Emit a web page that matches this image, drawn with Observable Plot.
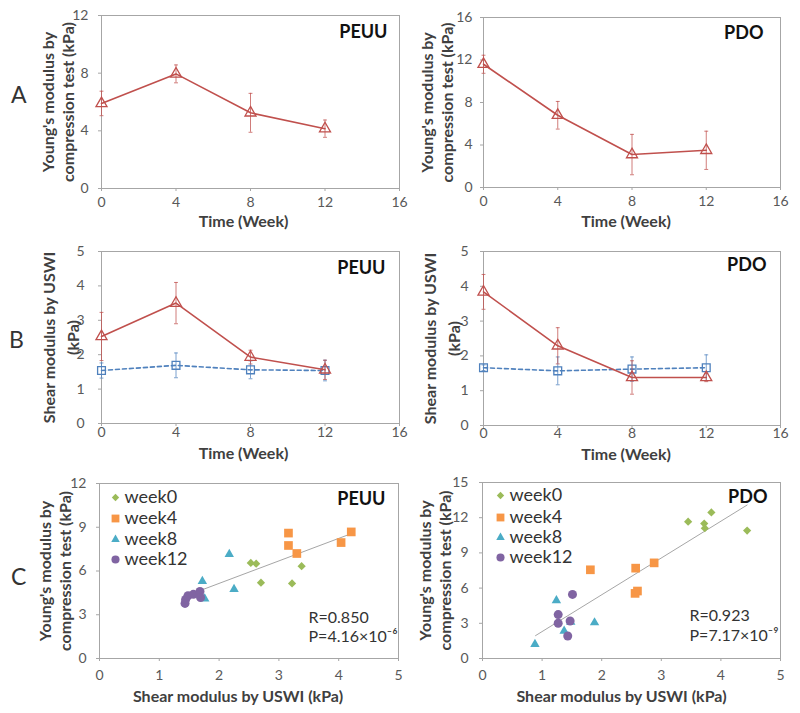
<!DOCTYPE html>
<html>
<head>
<meta charset="utf-8">
<script src="https://cdn.jsdelivr.net/npm/d3@7"></script>
<script src="https://cdn.jsdelivr.net/npm/@observablehq/plot@0.6"></script>
<style>
  body { margin: 0; background: #fff; }
  #fig { position: relative; width: 800px; height: 713px; background: #fff; font-family: Lato, "Open Sans", sans-serif; }
  .letter { position: absolute; font-size: 23px; color: #333; font-family: Lato, sans-serif; line-height: 1; }
</style>
</head>
<body>
<div id="fig">
  <div class="letter" style="left:11px;top:83px;">A</div>
  <div class="letter" style="left:9px;top:328px;">B</div>
  <div class="letter" style="left:11px;top:565px;">C</div>
</div>
<script>
// ---------- data ----------
const weeks = [0, 4, 8, 12];
const timeTicks = [0, 4, 8, 12, 16];

// Panel A: Young's modulus by compression test (kPa)
const peuuYoung = [5.9, 7.95, 5.25, 4.15];
const peuuYoungErr = [0.85, 0.62, 1.35, 0.6];
const pdoYoung = [11.6, 6.8, 3.1, 3.5];
const pdoYoungErr = [0.85, 1.3, 1.9, 1.8];

// Panel B: Shear modulus by USWI (kPa)
const peuuShearRed = [2.53, 3.5, 1.93, 1.56];
const peuuShearRedErr = [0.7, 0.6, 0.2, 0.28];
const peuuShearBlue = [1.54, 1.69, 1.56, 1.54];
const peuuShearBlueErr = [0.22, 0.36, 0.26, 0.3];
const pdoShearRed = [3.84, 2.29, 1.38, 1.38];
const pdoShearRedErr = [0.5, 0.52, 0.48, 0.12];
const pdoShearBlue = [1.66, 1.57, 1.62, 1.66];
const pdoShearBlueErr = [0.08, 0.4, 0.35, 0.37];

// Panel C: scatter, shear (x) vs Young's (y)
const groups = ["week0", "week4", "week8", "week12"];
const peuuW0x = [2.53, 2.62, 2.70, 3.22, 3.38];
const peuuW0y = [6.55, 6.5, 5.2, 5.15, 6.33];
const peuuW4x = [3.16, 3.16, 3.30, 4.04, 4.21];
const peuuW4y = [8.6, 7.75, 7.2, 7.95, 8.68];
const peuuW8x = [2.17, 1.72, 2.25, 1.76];
const peuuW8y = [7.15, 5.3, 4.75, 4.1];
const peuuW12x = [1.43, 1.44, 1.48, 1.57, 1.68, 1.69];
const peuuW12y = [3.78, 4.05, 4.3, 4.4, 4.6, 4.18];
const peuuTrendX = [1.43, 4.21];
const peuuTrendY = [4.27, 8.56];

const pdoW0x = [3.45, 3.72, 3.73, 3.84, 4.44];
const pdoW0y = [11.66, 11.5, 11.1, 12.45, 10.9];
const pdoW4x = [1.81, 2.57, 2.88, 2.60, 2.56];
const pdoW4y = [7.56, 7.7, 8.15, 5.75, 5.55];
const pdoW8x = [1.24, 0.88, 1.37, 1.48, 1.88];
const pdoW8y = [4.95, 1.21, 2.35, 3.1, 3.06];
const pdoW12x = [1.51, 1.27, 1.27, 1.47, 1.43];
const pdoW12y = [5.46, 3.74, 3.0, 3.2, 1.92];
const pdoTrendX = [0.89, 4.44];
const pdoTrendY = [1.95, 13.08];

const shearTicks = [0, 1, 2, 3, 4, 5];
const youngTicksA1 = [0, 4, 8, 12];
const youngTicksA2 = [0, 4, 8, 12, 16];
const shearYTicks = [0, 1, 2, 3, 4, 5];
const youngTicksC1 = [0, 3, 6, 9, 12];
const youngTicksC2 = [0, 3, 6, 9, 12, 15];

// ---------- styling ----------
const RED = "#C0504D", BLUE = "#4F81BD";
const GREEN = "#9BBB59", ORANGE = "#F79646", CYAN = "#4BACC6", PURPLE = "#8064A2";
const frameColor = "#a6a6a6", tickText = "#595959", labelColor = "#404040";
const intFmt = d3.format("d");

const cap = { draw(ctx, size) { const w = Math.sqrt(size) / 2; ctx.moveTo(-w, 0); ctx.lineTo(w, 0); } };

const fig = document.getElementById("fig");

function series(vals, errs) {
  return weeks.map((w, i) => ({ w, v: vals[i], e: errs[i] }));
}
function pts(xs, ys) { return xs.map((x, i) => ({ x, y: ys[i] })); }

function lineSeries(data, color, dashed) {
  return [
    Plot.ruleX(data, { x: "w", y1: d => d.v - d.e, y2: d => d.v + d.e, stroke: color, strokeOpacity: 0.75, strokeWidth: 1 }),
    Plot.dot(data, { x: "w", y: d => d.v + d.e, symbol: cap, r: 2.2, stroke: color, strokeOpacity: 0.75, strokeWidth: 1 }),
    Plot.dot(data, { x: "w", y: d => d.v - d.e, symbol: cap, r: 2.2, stroke: color, strokeOpacity: 0.75, strokeWidth: 1 }),
    Plot.line(data, { x: "w", y: "v", stroke: color, strokeWidth: 1.6, strokeDasharray: dashed ? "4,3" : null }),
    Plot.dot(data, { x: "w", y: "v", symbol: dashed ? "square" : "triangle", r: dashed ? 4.4 : 4.1, stroke: color, fill: "none", strokeWidth: 1.3 })
  ];
}

function panel(cfg) {
  const marks = [
    Plot.frame({ stroke: frameColor }),
    Plot.axisX({ ticks: cfg.xTicks, tickFormat: intFmt, tickSize: 3, tickPadding: cfg.xPad, label: null, stroke: frameColor, fill: tickText, fontSize: 14 }),
    Plot.axisY({ ticks: cfg.yTicks, tickFormat: intFmt, tickSize: 3, tickPadding: cfg.yPad, label: null, stroke: frameColor, fill: tickText, fontSize: 14 }),
    Plot.text([cfg.ylabel], { frameAnchor: "left", rotate: -90, dx: cfg.ylabelDx, textAnchor: "middle", lineAnchor: "middle", lineHeight: cfg.ylabelLH || 1.25, fontSize: 16, fontWeight: "bold", fill: labelColor }),
    Plot.text([cfg.xlabel], { frameAnchor: "bottom", dx: cfg.xlabelDx, dy: cfg.xlabelDy, textAnchor: "middle", lineAnchor: "middle", fontSize: 16, fontWeight: "bold", fill: labelColor }),
    Plot.text([cfg.title], { frameAnchor: "top-right", dx: cfg.titleDx, dy: cfg.titleDy, textAnchor: "end", lineAnchor: "middle", fontSize: 18, fontWeight: "bold", fill: "#111" }),
    ...cfg.marks
  ];
  const p = Plot.plot({
    width: 400, height: cfg.height,
    marginLeft: cfg.m[0], marginRight: cfg.m[1], marginTop: cfg.m[2], marginBottom: cfg.m[3],
    x: { domain: cfg.xDomain },
    y: { domain: cfg.yDomain },
    style: { position: "absolute", left: cfg.left + "px", top: cfg.top + "px", fontFamily: "Lato, 'Open Sans', sans-serif", fontSize: "14px", background: "transparent", overflow: "visible", color: "#333" },
    marks
  });
  fig.appendChild(p);
}

function scatterMarks(g, trendX, trendY, stats, legendDx, legendDys, statsDx, statsDys) {
  const syms = [["diamond2", GREEN, 3.7], ["square", ORANGE, 4.9], ["triangle", CYAN, 3.5], ["circle", PURPLE, 4.5]];
  const out = [Plot.line(pts(trendX, trendY), { x: "x", y: "y", stroke: "#a6a6a6", strokeWidth: 1 })];
  g.forEach((data, i) => {
    const [s, c, r] = syms[i];
    out.push(Plot.dot(data, { x: "x", y: "y", symbol: s, r, fill: c, stroke: "none" }));
  });
  groups.forEach((name, i) => {
    const [s, c, r] = syms[i];
    out.push(Plot.dot([name], { frameAnchor: "top-left", dx: legendDx, dy: legendDys[i], symbol: s, r: r * 0.9, fill: c }));
    out.push(Plot.text([name], { frameAnchor: "top-left", dx: legendDx + 9, dy: legendDys[i], textAnchor: "start", lineAnchor: "middle", fontSize: 18, fill: "#333" }));
  });
  stats.forEach((t, i) => {
    out.push(Plot.text([t], { frameAnchor: "top-left", dx: statsDx, dy: statsDys[i], textAnchor: "start", lineAnchor: "middle", fontSize: 16, fill: "#333" }));
  });
  return out;
}

const timeLabel = "Time (Week)";
const youngLabel = "Young's modulus by\ncompression test (kPa)";
const shearLabel = "Shear modulus by USWI\n(kPa)";
const shearXLabel = "Shear modulus by USWI (kPa)";

// A left
panel({ left: 0, top: 0, height: 230, m: [101, 1, 15, 42], xDomain: [0, 16], yDomain: [0, 12], xTicks: timeTicks, yTicks: youngTicksA1,
  xPad: 6, yPad: 10, ylabel: youngLabel, ylabelDx: -44, xlabel: timeLabel, xlabelDx: -7, xlabelDy: 33, title: "PEUU", titleDx: -12, titleDy: 17,
  marks: lineSeries(series(peuuYoung, peuuYoungErr), RED, false) });
// A right
panel({ left: 400, top: 0, height: 230, m: [83, 20, 17, 43], xDomain: [0, 16], yDomain: [0, 16], xTicks: timeTicks, yTicks: youngTicksA2,
  xPad: 6, yPad: 8, ylabel: youngLabel, ylabelDx: -47, xlabel: timeLabel, xlabelDx: -6, xlabelDy: 34, title: "PDO", titleDx: -17, titleDy: 16,
  marks: lineSeries(series(pdoYoung, pdoYoungErr), RED, false) });
// B left
panel({ left: 0, top: 230, height: 230, m: [101, 1, 21, 37], xDomain: [0, 16], yDomain: [0, 5], xTicks: timeTicks, yTicks: shearYTicks,
  xPad: 1, yPad: 14, ylabel: shearLabel, ylabelDx: -42, ylabelLH: 1.5, xlabel: timeLabel, xlabelDx: -7, xlabelDy: 30, title: "PEUU", titleDx: -14, titleDy: 17,
  marks: [...lineSeries(series(peuuShearBlue, peuuShearBlueErr), BLUE, true), ...lineSeries(series(peuuShearRed, peuuShearRedErr), RED, false)] });
// B right
panel({ left: 400, top: 230, height: 230, m: [83, 20, 21, 35], xDomain: [0, 16], yDomain: [0, 5], xTicks: timeTicks, yTicks: shearYTicks,
  xPad: 0, yPad: 12, ylabel: shearLabel, ylabelDx: -43, ylabelLH: 1.5, xlabel: timeLabel, xlabelDx: -6, xlabelDy: 29, title: "PDO", titleDx: -14, titleDy: 14,
  marks: [...lineSeries(series(pdoShearBlue, pdoShearBlueErr), BLUE, true), ...lineSeries(series(pdoShearRed, pdoShearRedErr), RED, false)] });
// C left
panel({ left: 0, top: 460, height: 253, m: [99, 2, 23, 55], xDomain: [0, 5], yDomain: [0, 12], xTicks: shearTicks, yTicks: youngTicksC1,
  xPad: 9, yPad: 10, ylabel: youngLabel, ylabelDx: -45, xlabel: shearXLabel, xlabelDx: -11, xlabelDy: 38, title: "PEUU", titleDx: -13, titleDy: 16,
  marks: scatterMarks([pts(peuuW0x, peuuW0y), pts(peuuW4x, peuuW4y), pts(peuuW8x, peuuW8y), pts(peuuW12x, peuuW12y)], peuuTrendX, peuuTrendY,
    ["R=0.850", "P=4.16×10⁻⁶"], 16, [14, 35, 56, 76], 209, [134, 153]) });
// C right
panel({ left: 400, top: 460, height: 253, m: [82, 20, 22, 55], xDomain: [0, 5], yDomain: [0, 15], xTicks: shearTicks, yTicks: youngTicksC2,
  xPad: 9, yPad: 11, ylabel: youngLabel, ylabelDx: -48, xlabel: shearXLabel, xlabelDx: -10, xlabelDy: 38, title: "PDO", titleDx: -13, titleDy: 15,
  marks: scatterMarks([pts(pdoW0x, pdoW0y), pts(pdoW4x, pdoW4y), pts(pdoW8x, pdoW8y), pts(pdoW12x, pdoW12y)], pdoTrendX, pdoTrendY,
    ["R=0.923", "P=7.17×10⁻⁹"], 18, [13, 35, 55, 75], 207, [133, 153]) });
</script>
</body>
</html>
